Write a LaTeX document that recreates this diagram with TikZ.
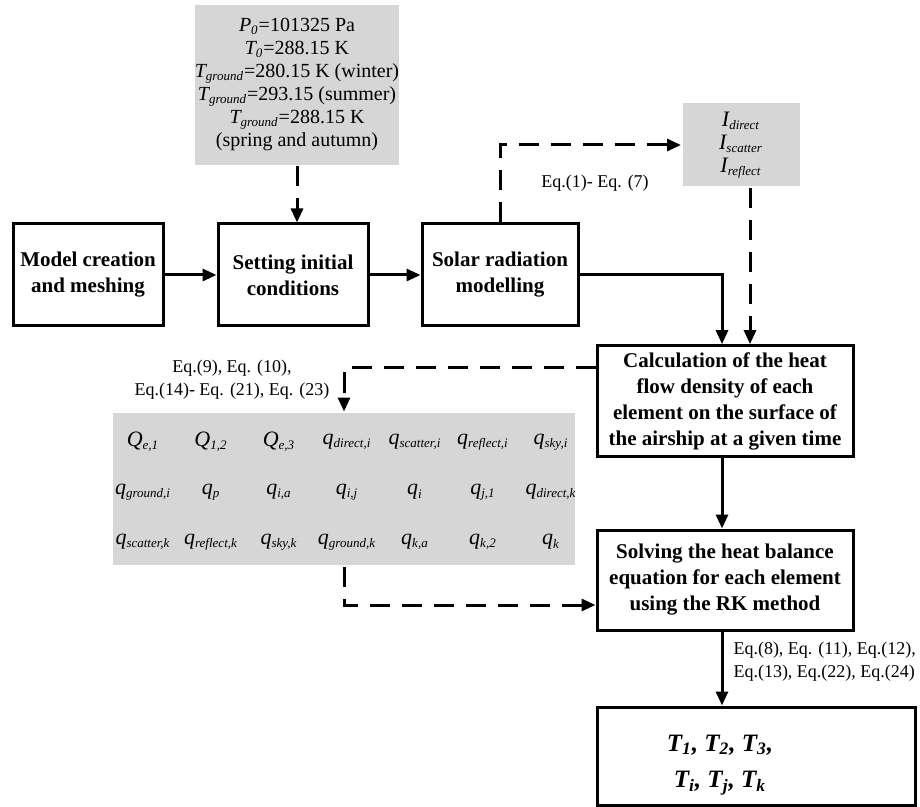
\documentclass[tikz,border=0pt]{standalone}
\usepackage{fontspec}
\setmainfont{Liberation Serif}
\usetikzlibrary{arrows.meta}
\newcommand{\vr}[2]{\textit{#1\textsubscript{\fontsize{6.5}{7}\selectfont #2}}}

\begin{document}
\begin{tikzpicture}[x=0.5pt, y=-0.5pt, line width=1.5pt, >={Triangle[length=7pt,width=6pt]},
	box/.style={draw, align=center, font=\fontsize{10.5}{13}\selectfont\bfseries},
	grey/.style={fill=black!16, align=center, inner sep=0pt},
	eqlabel/.style={font=\fontsize{9}{11.5}\selectfont, inner sep=0pt},
	qv/.style={font=\fontsize{11}{13}\selectfont, inner sep=0pt},
	dashline/.style={dash pattern=on 10pt off 6pt}]
	\useasboundingbox (0,0) rectangle (920,807);
	% process boxes
	\node[box, minimum width=75pt, minimum height=51pt] (model) at (88,275) {Model creation\\and meshing};
	\node[box, minimum width=75pt, minimum height=51pt] (setting) at (293,275) {Setting initial\\conditions};
	\node[box, minimum width=78pt, minimum height=51pt] (solar) at (500,275) {Solar radiation\\modelling};
	\node[box, minimum width=128pt, minimum height=53.5pt] (calc) at (725,401) {Calculation of the heat\\flow density of each\\element on the surface of\\the airship at a given time};
	\node[box, minimum width=128pt, minimum height=50pt] (solve) at (725,580) {Solving the heat balance\\equation for each element\\using the RK method};
	\node[draw, minimum width=159pt, minimum height=49pt] (temps) at (756,756) {};
	\node[align=center, font=\fontsize{12.5}{18}\selectfont\bfseries\itshape] (tlist) at (720,765) {T\textsubscript{1}, T\textsubscript{2}, T\textsubscript{3},\\T\textsubscript{i}, T\textsubscript{j}, T\textsubscript{k}};
	% grey data boxes
	\node[grey, minimum width=90pt, minimum height=80pt, font=\fontsize{10}{11.5}\selectfont] (init) at (297,85)
		{\vr{P}{0}=101325 Pa\\\vr{T}{0}=288.15 K\\\vr{T}{ground}=280.15 K (winter)\\\vr{T}{ground}=293.15 (summer)\\\vr{T}{ground}=288.15 K\\(spring and autumn)};
	\node[grey, minimum width=58.5pt, minimum height=41.5pt, font=\fontsize{11}{11.5}\selectfont] (irr) at (741,145)
		{\vr{I}{direct}\\\vr{I}{scatter}\\\vr{I}{reflect}};
	\node[grey, minimum width=231pt, minimum height=76pt] (flux) at (344,489) {};
	\foreach \lab [count=\c] in {{\vr{Q}{e,1}}, {\vr{Q}{1,2}}, {\vr{Q}{e,3}}, {\vr{q}{direct,i}}, {\vr{q}{scatter,i}}, {\vr{q}{reflect,i}}, {\vr{q}{sky,i}}}
		\node[qv] (qa\c) at ({143+68*(\c-1)},442) {\lab};
	\foreach \lab [count=\c] in {{\vr{q}{ground,i}}, {\vr{q}{p}}, {\vr{q}{i,a}}, {\vr{q}{i,j}}, {\vr{q}{i}}, {\vr{q}{j,1}}, {\vr{q}{direct,k}}}
		\node[qv] (qb\c) at ({143+68*(\c-1)},492) {\lab};
	\foreach \lab [count=\c] in {{\vr{q}{scatter,k}}, {\vr{q}{reflect,k}}, {\vr{q}{sky,k}}, {\vr{q}{ground,k}}, {\vr{q}{k,a}}, {\vr{q}{k,2}}, {\vr{q}{k}}}
		\node[qv] (qc\c) at ({143+68*(\c-1)},542) {\lab};
	% equation labels
	\node[eqlabel] (eqsolar) at (595,183) {Eq.(1)- Eq. (7)};
	\node[eqlabel, align=center] (eqflux) at (232,380) {Eq.(9), Eq. (10),\\Eq.(14)- Eq. (21), Eq. (23)};
	\node[eqlabel, align=left, anchor=west] (eqsolve) at (732,662) {Eq.(8), Eq. (11), Eq.(12),\\Eq.(13), Eq.(22), Eq.(24)};
	% connectors
	\draw[->] (model) -- (setting);
	\draw[->] (setting) -- (solar);
	\draw[->] (solar.east) -| ([xshift=-1.5pt]calc.north);
	\draw[->] ([xshift=-1.5pt]calc.south) -- ([xshift=-1.5pt]solve.north);
	\draw[->] ([xshift=-1.5pt]solve.south) -- ([xshift=-1.5pt]solve.south |- temps.north);
	\draw[dashline, ->] (init.south) -- (init.south |- setting.north);
	\draw[dashline, ->] (solar.north) |- (irr.west);
	\draw[dashline, ->] ([xshift=4.5pt]irr.south) -- ([xshift=4.5pt]irr.south |- calc.north);
	\draw[dashline, ->] ([yshift=16.5pt]calc.west) -| (flux.north);
	\draw[dashline, ->] (flux.south) |- ([yshift=-12.5pt]solve.west);
\end{tikzpicture}
\end{document}
